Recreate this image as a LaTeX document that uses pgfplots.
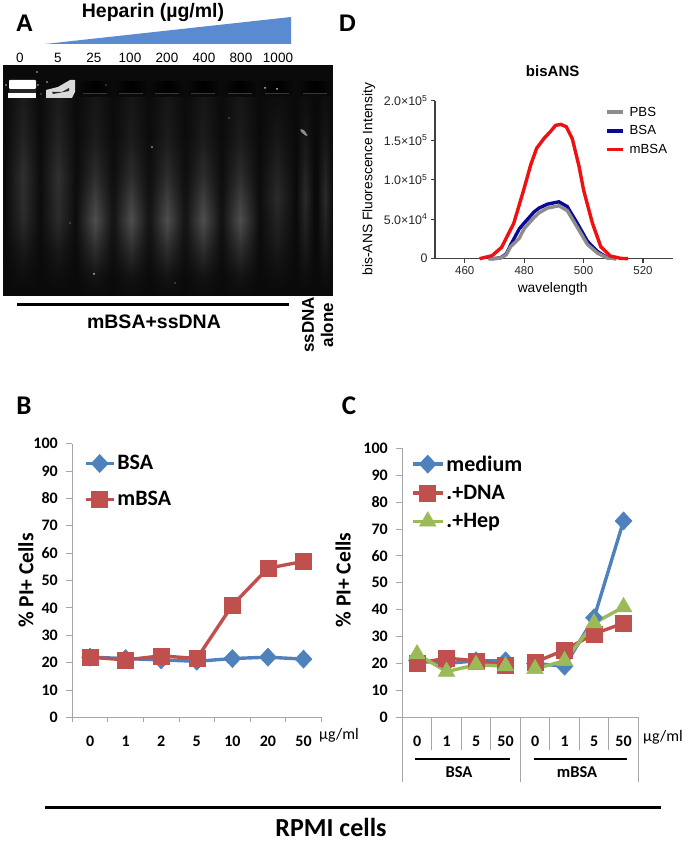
\documentclass[border=0pt]{standalone}
\usepackage{fontspec}
\setmainfont{Liberation Sans}
\newfontfamily\carl{Carlito}
\usepackage{pgfplots}
\pgfplotsset{compat=1.18}
\usetikzlibrary{fadings}
\definecolor{xblue}{HTML}{4F81BD}
\definecolor{xred}{HTML}{C0504D}
\definecolor{xgreen}{HTML}{9BBB59}
\definecolor{wedge}{HTML}{5A8AD0}
\definecolor{dgray}{HTML}{8C8C8C}
\definecolor{dblue}{HTML}{0A0A9A}
\definecolor{dred}{HTML}{EE1111}
\definecolor{axgray}{HTML}{A6A6A6}
\pgfdeclareverticalshading{lanebright}{100bp}{color(0bp)=(white!4!black);color(25bp)=(white!5!black);color(30bp)=(white!8!black);color(36.5bp)=(white!18!black);color(44bp)=(white!31!black);color(55bp)=(white!18!black);color(65bp)=(white!11!black);color(75bp)=(white!9!black);color(100bp)=(white!9!black)}
\pgfdeclareverticalshading{lanedim}{100bp}{color(0bp)=(white!4!black);color(25bp)=(white!4!black);color(30bp)=(white!6!black);color(36.5bp)=(white!10!black);color(44bp)=(white!17!black);color(55bp)=(white!19!black);color(65bp)=(white!14!black);color(75bp)=(white!11!black);color(100bp)=(white!11!black)}
\pgfdeclareverticalshading{lanefaint}{100bp}{color(0bp)=(white!4!black);color(25bp)=(white!4!black);color(30bp)=(white!6!black);color(40bp)=(white!12!black);color(50bp)=(white!17!black);color(65bp)=(white!9!black);color(75bp)=(white!6!black);color(100bp)=(white!6!black)}
\tikzfading[name=lanefade,left color=transparent!100,right color=transparent!100,middle color=transparent!0]
\newcommand{\lane}[3]{\path[shading=#3,path fading=lanefade] (#1-#2,98) rectangle (#1+#2,295);}
\newcommand{\well}[1]{\fill[black,path fading=lanefade] (#1-17,81) rectangle (#1+17,94);
  \draw[white!22!black,line width=.5pt] (#1-12,93)--(#1+12,93);}
\pgfplotsset{
  excel/.style={scale only axis,clip=false,axis x line=bottom,axis y line=left,
    axis line style={-,color=axgray,line width=.9pt},
    tick style={color=axgray,line width=.9pt},tick align=outside,
    ymin=0,ymax=100,ytick={0,10,...,100},major tick length=6pt,
    /pgf/number format/assume math mode=true,
    tick label style={font=\carl\bfseries\fontsize{16}{16}\selectfont,black},
    yticklabel style={xshift=-5pt},
    xticklabel style={yshift=-9pt},
    ylabel style={font=\carl\bfseries\fontsize{21.5}{22}\selectfont,anchor=center},
    legend cell align=left,
    legend style={draw=none,fill=none,inner sep=0pt,outer sep=0pt,font=\carl\bfseries\fontsize{22}{23}\selectfont,anchor=north west},
    legend image code/.code={\draw[mark repeat=2,mark phase=2,##1] plot coordinates {(0pt,0pt)(15pt,0pt)(30pt,0pt)};},
  },
  sblue/.style={color=xblue,line width=3.4pt,mark=diamond*,mark size=9pt,mark options={xscale=1.25,solid,line width=.6pt}},
  sred/.style={color=xred,line width=3.4pt,mark=square*,mark size=8pt,mark options={solid,line width=.6pt}},
  sgreen/.style={color=xgreen,line width=3.4pt,mark=triangle*,mark size=9.5pt,mark options={solid,line width=.6pt}},
}
\begin{document}
\begin{tikzpicture}[x=1pt,y=1pt]
\useasboundingbox (0,0) rectangle (686,842);
\begin{scope}[shift={(0,842)},y=-1pt]
% ---------- panel A: gel
\fill[white!4!black] (3,65) rectangle (333,296);
\lane{23}{18}{lanedim}
\lane{58}{19}{lanedim}
\lane{95}{20}{lanebright}
\lane{131}{20}{lanebright}
\lane{167}{20}{lanebright}
\lane{203}{20}{lanebright}
\lane{240}{20}{lanebright}
\lane{277}{19}{lanefaint}
\lane{305}{9}{lanefaint}
\lane{325}{8}{lanefaint}
\foreach \c in {95,131,167,203,240,277,315}{\well{\c}}
\fill[white,rounded corners=1pt] (9,80) rectangle (36,89);
\fill[white!15!black] (9,89) rectangle (36,93);
\fill[white] (8,93) rectangle (36,98);
\fill[white!85!black] (46,90) -- (58,87) -- (70,80) -- (75,80) -- (75,92) -- (72,98) -- (46,98) -- cycle;
\fill[white!15!black] (52,92) -- (62,92) -- (69,88) -- (69,91) -- (53,94) -- cycle;
\foreach \x/\y/\r in {6/85/.9,37/72/.8,41/94/.7,47/82/.8,38/85/.8,106/85/.7,152/147/.8,265/88/1,277/89/1,94/274/1,175/283/.7,229/118/.6,70/223/.6}
  \fill[white!75!black] (\x,\y) circle (\r);
\fill[white!55!black,rounded corners=1pt] (300,129) -- (304,130) -- (308,136) -- (306,136) -- (301,132) -- cycle;
\fill[wedge] (45,44) -- (291,17) -- (291,44) -- cycle;
\node[font=\bfseries\fontsize{19.5}{20}\selectfont] at (153,13) {Heparin (µg/ml)};
\foreach \x/\t in {20/0,58/5,94/25,130/100,167/200,204/400,241/800,278/1000}
  \node[font=\fontsize{13.5}{14}\selectfont] at (\x,58) {\t};
\draw[black,line width=2.6pt] (17,304.5) -- (289,304.5);
\node[font=\bfseries\fontsize{19.5}{20}\selectfont] at (154,322) {mBSA+ssDNA};
\node[rotate=90,font=\bfseries\fontsize{17}{18}\selectfont] at (308,325) {ssDNA};
\node[rotate=90,font=\bfseries\fontsize{17}{18}\selectfont] at (327,325) {alone};
% panel letters
\node[font=\bfseries\fontsize{24}{24}\selectfont] at (24.5,23) {A};
\node[font=\bfseries\fontsize{24}{24}\selectfont] at (347.5,23) {D};
\node[font=\carl\bfseries\fontsize{27}{27}\selectfont] at (24,406) {B};
\node[font=\carl\bfseries\fontsize{27}{27}\selectfont] at (349,406) {C};
% annotations B, C
\node[font=\carl\fontsize{16}{16}\selectfont,anchor=west,inner xsep=0pt] at (319,735) {µg/ml};
\node[font=\carl\fontsize{16}{16}\selectfont,anchor=west,inner xsep=0pt] at (643,737) {µg/ml};
\draw[black,line width=2.2pt] (415,759) -- (510,759);
\draw[black,line width=2.2pt] (533.7,759) -- (627,759);
\node[font=\carl\bfseries\fontsize{16.5}{17}\selectfont] at (459,772) {BSA};
\node[font=\carl\bfseries\fontsize{16.5}{17}\selectfont] at (577,772) {mBSA};
\draw[black,line width=3pt] (45,808) -- (661,808);
\node[font=\carl\bfseries\fontsize{26}{26}\selectfont,anchor=base,inner sep=0pt] at (331,836.5) {RPMI cells};
\end{scope}
% ---------- panel B
\begin{axis}[excel,at={(72.3pt,124.6pt)},anchor=south west,width=249pt,height=273.7pt,
  xmin=-0.5,xmax=6.5,xtick={0,...,6},xticklabels={0,1,2,5,10,20,50},
  major x tick style={draw=none},
  minor xtick={-0.5,0.5,...,6.5},minor tick length=5pt,
  ylabel={\% PI+ Cells},ylabel style={at={(axis description cs:-0.186,0.5)}},
  legend image code/.code={\draw[mark repeat=2,mark phase=2,#1] plot coordinates {(0pt,0pt)(14pt,0pt)(28pt,0pt)};},
  legend style={at={(axis description cs:0.047,0.964)},row sep=16pt}]
\addplot[sblue] coordinates {(0,22)(1,21.5)(2,21)(3,20.5)(4,21.5)(5,22)(6,21.3)};
\addlegendentry{BSA}
\addplot[sred] coordinates {(0,22)(1,21)(2,22.5)(3,21.5)(4,41)(5,54.5)(6,57)};
\addlegendentry{mBSA}
\end{axis}
% ---------- panel C
\begin{axis}[excel,at={(402.3pt,124.7pt)},anchor=south west,width=236pt,height=269pt,
  unbounded coords=jump,
  xmin=-0.5,xmax=7.5,xtick={0,...,7},xticklabels={0,1,5,50,0,1,5,50},
  major x tick style={draw=none},
  minor xtick={0.5,1.5,2.5,4.5,5.5,6.5},minor tick length=33pt,
  extra x ticks={-0.5,3.5,7.5},extra x tick labels={},
  extra x tick style={major tick length=65pt,major x tick style={draw=axgray}},
  ylabel={\% PI+ Cells},ylabel style={at={(axis description cs:-0.251,0.51)}},
  legend style={at={(axis description cs:0.037,0.98)},row sep=8.5pt}]
\addplot[sblue] coordinates {(0,21)(1,20)(2,21)(3,21)(3.5,nan)(4,20)(5,19)(6,37)(7,73)};
\addlegendentry{medium}
\addplot[sred] coordinates {(0,20)(1,22)(2,21)(3,19.5)(3.5,nan)(4,20.5)(5,25)(6,31)(7,35)};
\addlegendentry{.+DNA}
\addplot[sgreen] coordinates {(0,23.5)(1,17)(2,19.5)(3,19)(3.5,nan)(4,18)(5,21)(6,35)(7,41)};
\addlegendentry{.+Hep}
\end{axis}
% ---------- panel D
\begin{axis}[scale only axis,clip=false,at={(435pt,583.3pt)},anchor=south west,width=237.7pt,height=158pt,
  axis x line=bottom,axis y line=left,axis line style={-,color=black!75,line width=1.6pt},
  tick style={color=black!75,line width=1.1pt},tick align=outside,major tick length=4pt,
  xmin=450,xmax=530,ymin=0,ymax=200000,
  xtick={460,480,500,520},ytick={0,50000,100000,150000,200000},
  yticklabels={0,5.0×10\textsuperscript{4},1.0×10\textsuperscript{5},1.5×10\textsuperscript{5},2.0×10\textsuperscript{5}},
  scaled y ticks=false,
  /pgf/number format/assume math mode=true,/pgf/number format/1000 sep={},
  tick label style={font=\fontsize{11.5}{12}\selectfont,text=black!85},
  yticklabel style={font=\fontsize{12.4}{12}\selectfont},
  title={bisANS},title style={font=\bfseries\fontsize{15}{15}\selectfont,at={(axis description cs:0.495,1.15)},anchor=center},
  xlabel={wavelength},xlabel style={font=\fontsize{13.8}{14}\selectfont,at={(axis description cs:0.495,-0.19)},anchor=center},
  ylabel={bis-ANS Fluorescence Intensity},ylabel style={font=\fontsize{13.8}{14}\selectfont,at={(axis description cs:-0.278,0.504)},anchor=center},
  legend cell align=left,
  legend style={draw=none,fill=none,inner sep=0pt,font=\fontsize{13.2}{14}\selectfont,anchor=north west,at={(axis description cs:0.715,0.975)},row sep=4pt},
  legend image code/.code={\draw[#1] (0pt,0pt)--(16pt,0pt);\path (19pt,0pt);}]
\addlegendimage{dgray,line width=3.5pt}\addlegendentry{PBS}
\addlegendimage{dblue,line width=3.5pt}\addlegendentry{BSA}
\addlegendimage{dred,line width=3.5pt}\addlegendentry{mBSA}
\addplot[dblue,line width=3.4pt,forget plot] coordinates {(468,0)(470,200)(472,1000)(474,6000)(475.4,17000)(478.4,38000)(480,45000)(483.3,59000)(485,64000)(487.8,69000)(491.7,72000)(494.5,66000)(498,44000)(501.3,22000)(504.7,9000)(508,1300)(511,0)};
\addplot[dgray,line width=3.4pt,forget plot] coordinates {(468,0)(470,100)(472,800)(474,5000)(475.4,15000)(478.4,26000)(480,38000)(483.3,52000)(485,58000)(487.8,64000)(491.7,67000)(494.5,61000)(498,39000)(501.3,18000)(504.7,7000)(508,800)(511,0)};
\addplot[dred,line width=3.4pt,forget plot] coordinates {(465,0)(466.4,1300)(469.2,3800)(472.4,14300)(476.5,44700)(480,89000)(482.2,118600)(484.2,139700)(486.7,152300)(489,161600)(490.6,168800)(492.3,170000)(494.2,167000)(496.2,152000)(498.5,116500)(500,87000)(503,44700)(505.8,15200)(509,3400)(512.5,400)(515,0)};
\end{axis}
\end{tikzpicture}
\end{document}
